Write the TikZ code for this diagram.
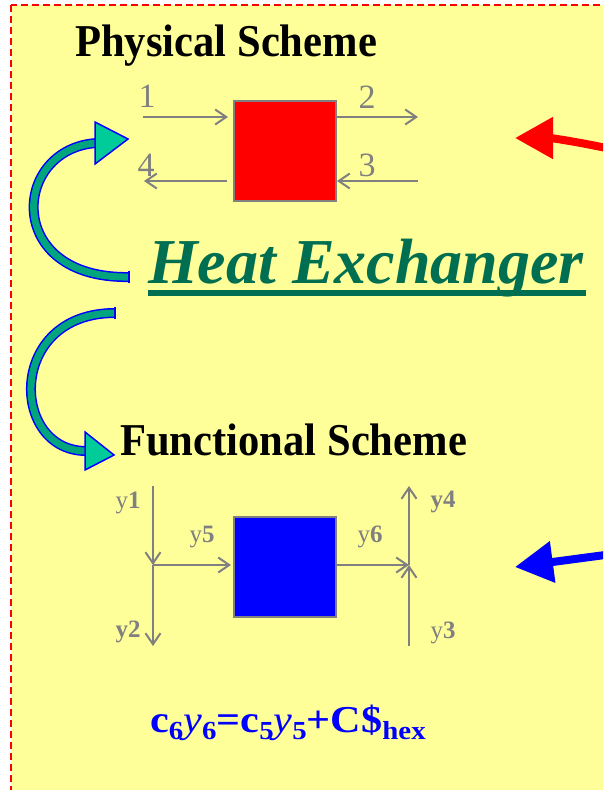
\documentclass[tikz,border=0pt]{standalone}
\usepackage{fontspec}
\setmainfont{Liberation Serif}
\usetikzlibrary{arrows.meta,positioning}
\definecolor{paper}{RGB}{255,255,153}
\definecolor{hexgreen}{RGB}{0,110,80}
\definecolor{pipe}{RGB}{128,128,128}
\definecolor{tealshaft}{RGB}{0,165,125}
\definecolor{tealhead}{RGB}{0,204,153}
\definecolor{pureblue}{RGB}{0,0,255}
\definecolor{purered}{RGB}{255,0,0}
\newcommand\lowidx[1]{\raisebox{-0.21em}{\fontsize{26}{26}\selectfont\bfseries #1}}
\tikzset{
  title/.style={font=\fontsize{42.6}{48}\selectfont\bfseries, inner sep=0pt, anchor=base west},
  unit/.style={draw=pipe, line width=2pt, minimum width=102pt, minimum height=100pt, inner sep=0pt},
  port/.style={text=pipe, font=\fontsize{34}{34}\selectfont, inner sep=0pt},
  sig/.style={text=pipe, font=\fontsize{25}{25}\selectfont, inner sep=0pt},
  stream/.style={draw=pipe, line width=2pt, -{Straight Barb[length=11pt,width=15pt]}},
  bendshaft/.style={draw=pureblue, line width=1.5pt, double=tealshaft, double distance=7pt},
  bendhead/.style={draw=pureblue, line width=1.5pt, fill=tealhead, line join=miter},
  pointer/.style={line width=8pt, -{Triangle[length=38pt,width=40pt]}}
}
\begin{document}
\begin{tikzpicture}[x=1pt,y=-1pt]
  \useasboundingbox (0,0) rectangle (603,790);
  \clip (0,0) rectangle (603,790);
  % sheet
  \fill[paper] (11,5) rectangle (640,820);
  \draw[purered, line width=1.3pt, dash pattern=on 7pt off 4pt] (11,5) rectangle (640,820);

  % physical scheme
  \node[title] (phystitle) at (75,56.5) {\scalebox{1}[1.07]{Physical Scheme}};
  \node[unit, fill=purered] (phys) at (285,151) {};
  \coordinate (p1) at (143,117);
  \coordinate (p2) at (418,117);
  \coordinate (p3) at (418,181);
  \coordinate (p4) at (144,181);
  \draw[stream, shorten >=5pt] (p1) -- (p1 -| phys.west);
  \draw[stream] (p1 -| phys.east) -- (p2);
  \draw[stream] (p3) -- (p3 -| phys.east);
  \draw[stream, shorten <=6pt] (p4 -| phys.west) -- (p4);
  \node[port] (n1) at (147,96) {1};
  \node[port] (n2) at (367,97) {2};
  \node[port] (n3) at (367,165) {3};
  \node[port] (n4) at (146,165) {4};

  % title in the middle
  \node[font=\fontsize{64}{70}\selectfont\bfseries\itshape, text=hexgreen,
    inner sep=0pt, anchor=base west] (hx) at (148,283) {Heat Exchanger};
  \draw[hexgreen, line width=6pt] ([yshift=-10pt]hx.base west) -- ([yshift=-10pt,xshift=2pt]hx.base east);

  % curved teal arrows
  \coordinate (b1tail) at (129,277);
  \coordinate (b1end) at (97,143);
  \draw[bendshaft] (b1tail) .. controls (3,279) and (12,148) .. (b1end);
  \draw[pureblue, line width=1.5pt] ([yshift=5.7pt]b1tail) -- ([yshift=-5.7pt]b1tail);
  \draw[bendhead] (95,122) -- (128,139) -- (95,164) -- cycle;
  \coordinate (b2tail) at (115,313);
  \coordinate (b2end) at (87,451);
  \draw[bendshaft] (b2tail) .. controls (6,313) and (10,452) .. (b2end);
  \draw[pureblue, line width=1.5pt] ([yshift=5.7pt]b2tail) -- ([yshift=-5.7pt]b2tail);
  \draw[bendhead] (85,432) -- (114,455) -- (85,470) -- cycle;

  % functional scheme
  \node[title] (functitle) at (120,455) {\scalebox{1}[1.07]{Functional Scheme}};
  \node[unit, fill=pureblue] (func) at (285,567) {};
  \coordinate (ltop) at (153,486);
  \coordinate (lmid) at (153,565);
  \coordinate (lbot) at (153,646);
  \coordinate (rtop) at (409,486);
  \coordinate (rmid) at (409,565);
  \coordinate (rbot) at (409,646);
  \draw[stream] (ltop) -- (lmid);
  \draw[stream] (lmid) -- (lbot);
  \draw[stream, shorten >=2pt] (lmid) -- (lmid -| func.west);
  \draw[stream] (func.east |- rmid) -- (rmid);
  \draw[stream] (rbot) -- (rmid);
  \draw[stream] (rmid) -- (rtop);
  \node[sig] (y1) at (128,503) {y\textbf{1}};
  \node[sig] (y5) at (202,537) {y\textbf{5}};
  \node[sig] (y6) at (370,537) {y\textbf{6}};
  \node[sig] (y4) at (443,502) {\textbf{y4}};
  \node[sig] (y2) at (128,632) {\textbf{y2}};
  \node[sig] (y3) at (443,633) {y\textbf{3}};

  \node[text=pureblue, font=\fontsize{38}{42}\selectfont\bfseries, inner sep=0pt,
    anchor=base west] (law) at (150,732)
    {\scalebox{1.11}[1]{c\lowidx{6}{\mdseries\itshape y}\lowidx{6}=c\lowidx{5}{\mdseries\itshape y}\lowidx{5}+C\$\lowidx{hex}}};

  % pointers from the right
  \coordinate (rtail) at (615,150);
  \coordinate (rtip) at (515,138);
  \draw[pointer, purered] (rtail) .. controls (580,142) and (550,138) .. (rtip);
  \coordinate (btail) at (620,553);
  \coordinate (btip) at (515,567);
  \draw[pointer, pureblue] (btail) -- (btip);
\end{tikzpicture}
\end{document}
